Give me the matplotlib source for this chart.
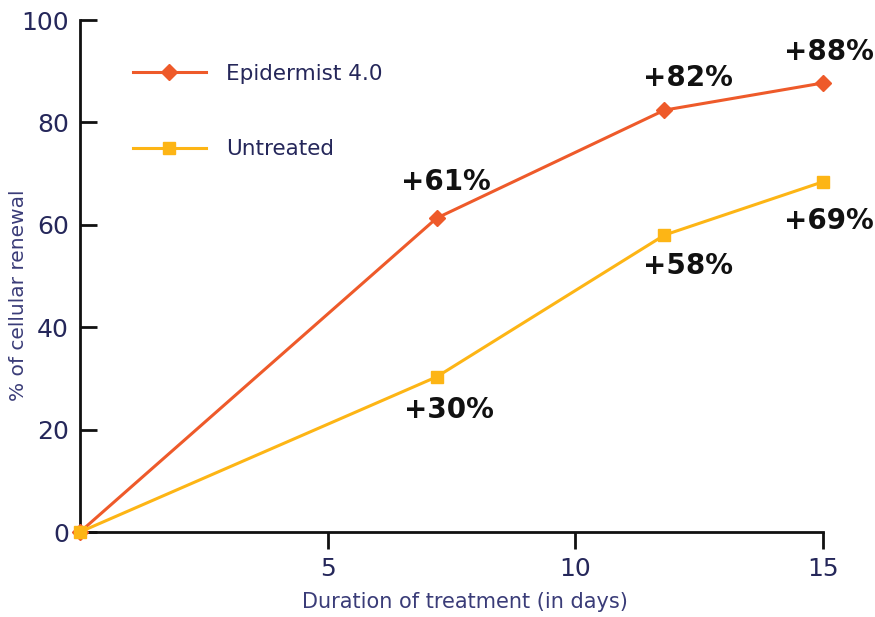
import numpy as np
import matplotlib
matplotlib.use("Agg")
import matplotlib.pyplot as plt

# data
days = [0, 7.2, 11.8, 15]
epidermist = [0, 61.3, 82.4, 87.7]
untreated = [0, 30.3, 58.0, 68.4]
epi_labels = ["", "+61%", "+82%", "+88%"]
unt_labels = ["", "+30%", "+58%", "+69%"]

red = "#ee5a2a"
yellow = "#fdb515"
navy = "#25275a"

plt.rcParams['font.family'] = ['DejaVu Sans']

fig = plt.figure(figsize=(8.75, 6.17), dpi=100)
ax = fig.add_axes([80/875, 1 - 532/617, 743/875, 512/617])

ax.plot(days, epidermist, color=red, lw=2.2, marker="D", ms=8,
        label="Epidermist 4.0", clip_on=False, zorder=3)
ax.plot(days, untreated, color=yellow, lw=2.2, marker="s", ms=9,
        label="Untreated", clip_on=False, zorder=3)

# percentage annotations
epi_off = [None, (7, 26), (17, 23), (4, 22)]
unt_off = [None, (9, -24), (17, -22), (4, -28)]
for i in range(1, len(days)):
    ax.annotate(epi_labels[i], (days[i], epidermist[i]), xytext=epi_off[i],
                textcoords="offset points", ha="center", va="center",
                fontsize=20, fontweight="bold", color="#111111")
    ax.annotate(unt_labels[i], (days[i], untreated[i]), xytext=unt_off[i],
                textcoords="offset points", ha="center", va="center",
                fontsize=20, fontweight="bold", color="#111111")

ax.set_xlim(0, 15)
ax.set_ylim(0, 100)
ax.set_xticks([5, 10, 15])
ax.set_yticks([0, 20, 40, 60, 80, 100])

for s in ["top", "right"]:
    ax.spines[s].set_visible(False)
for s in ["left", "bottom"]:
    ax.spines[s].set_linewidth(2)
    ax.spines[s].set_color("#111111")

ax.tick_params(axis="y", direction="in", length=12, width=2, pad=8,
               labelsize=18, labelcolor=navy, color="#111111")
ax.tick_params(axis="x", direction="out", length=12, width=2, pad=6,
               labelsize=18, labelcolor=navy, color="#111111")

ax.set_xlabel("Duration of treatment (in days)", fontsize=15, color="#3a3c78")
ax.xaxis.set_label_coords(0.518, -0.118)
ax.set_ylabel("% of cellular renewal", fontsize=14.5, color="#3a3c78")
ax.yaxis.set_label_coords(-0.07, 0.463)

leg = ax.legend(loc="upper left", bbox_to_anchor=(0.071, 0.915), frameon=False,
                fontsize=15.5, handlelength=3.4, handletextpad=0.95,
                labelspacing=2.6, borderpad=0, borderaxespad=0)
for t in leg.get_texts():
    t.set_color(navy)

fig.savefig("out.png", dpi=100)
